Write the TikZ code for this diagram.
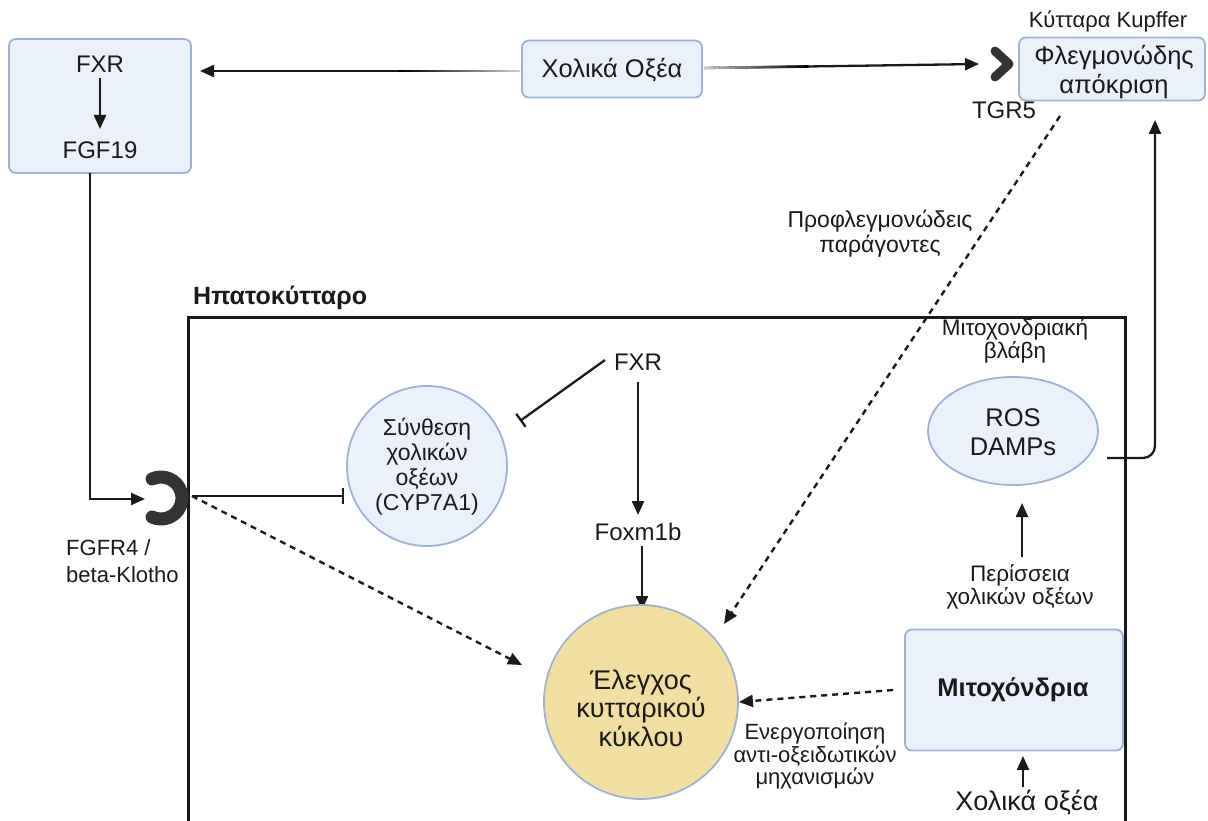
\documentclass[tikz,border=0pt]{standalone}
\usepackage{fontspec}
\setmainfont{Liberation Sans}
\usetikzlibrary{arrows.meta,calc,shapes.geometric}
\definecolor{boxfill}{HTML}{EAF1FB}
\definecolor{boxline}{HTML}{9DB3D4}
\definecolor{cycfill}{HTML}{F2DFA0}
\definecolor{recepcol}{HTML}{333333}
\definecolor{ink}{HTML}{1A1A1A}
\begin{document}
\begin{tikzpicture}[x=1pt,y=-1pt,
  bbox/.style={draw=boxline, fill=boxfill, line width=1.8, rounded corners=7, inner sep=0},
  txt/.style={inner sep=0, align=center, text=ink, font=\fontsize{24}{28}\selectfont},
  big/.style={inner sep=0, align=center, text=ink, font=\fontsize{25.5}{29}\selectfont},
  small/.style={inner sep=0, align=center, text=ink, font=\fontsize{22.5}{23.5}\selectfont},
  arr/.style={-{Triangle[length=14,width=12]}, line width=2.3, draw=ink},
  darr/.style={-{Triangle[length=14,width=12]}, line width=2.4, draw=ink, dash pattern=on 6pt off 5pt},
  inh/.style={-{Bar[width=16,line width=2.3]}, line width=2.3, draw=ink},
  recshape/.style={draw=recepcol, line width=13, line cap=round, line join=round}
]
\useasboundingbox (0,0) rectangle (1208,821);

% hepatocyte
\draw[line width=3, draw=ink] (188,840) -- (188,317) -- (1125,317) -- (1125,840);
\node[inner sep=0, anchor=west, text=ink, font=\fontsize{25}{28}\selectfont\bfseries] (hep) at (193,298) {Ηπατοκύτταρο};

% top boxes
\node[bbox, minimum width=182, minimum height=134] (fxrbox) at (100,106) {};
\node[txt] (fxr1) at (100,64) {FXR};
\node[txt] (fgf) at (100,150) {FGF19};
\draw[arr] (100,78) coordinate (fa) -- (100,129) coordinate (fb);

\node[bbox, minimum width=180, minimum height=57] (bile) at (612,69) {};
\node[big] (bilet) at (612,70) {Χολικά Οξέα};

\node[bbox, minimum width=186, minimum height=63] (kup) at (1112,69) {};
\node[big] (kupt) at (1114,72) {Φλεγμονώδης\\απόκριση};
\node[inner sep=0, text=ink, font=\fontsize{22}{26}\selectfont] (kuplab) at (1108,21) {Κύτταρα Kupffer};

% TGR5 chevron
\coordinate (tgr) at (1002,63);
\draw[draw=recepcol, line width=9, line cap=round, line join=round] (995,51) -- (1009,64) -- (995,77);
\node[txt] (tgrl) at (1004,110) {TGR5};

% top arrows
\coordinate (ltip) at (200,71);
\coordinate (lstart) at (520,71);
\coordinate (rstart) at (704,68);
\coordinate (rtip) at (979,64);
\draw[arr] (lstart) -- (ltip);
\draw[arr] (rstart) -- (rtip);
\foreach \i in {0,...,19}{
  \pgfmathsetmacro\ca{\i/20*0.38}
  \pgfmathsetmacro\cb{(\i+1)/20*0.38}
  \pgfmathsetmacro\gv{22+78*\i/19}
  \draw[line width=2.6, black!\gv] ($(lstart)!\ca!(ltip)$) -- ($(lstart)!\cb!(ltip)$);
  \draw[line width=2.6, black!\gv] ($(rstart)!\ca!(rtip)$) -- ($(rstart)!\cb!(rtip)$);
}

% FGF19 to receptor
\coordinate (rc) at (161,498);
\draw[arr] (90,173) -- (90,499) -- (145,499);
\draw[recshape] (rc) ++(115:21) arc[start angle=115, end angle=-115, radius=21];
\node[inner sep=0, anchor=west, align=left, text=ink, font=\fontsize{22}{27}\selectfont] (fgfr) at (66,561) {FGFR4 /\\beta-Klotho};

% synthesis circle
\node[circle, draw=boxline, fill=boxfill, line width=1.8, minimum size=160, inner sep=0] (syn) at (427,466) {};
\node[inner sep=0, align=center, text=ink, font=\fontsize{23}{25}\selectfont] (synt) at (427,467) {Σύνθεση\\χολικών\\οξέων\\(CYP7A1)};

\coordinate (recout) at (192,496);
\draw[inh] (recout) -- (344,496);

% FXR inner
\node[txt] (fxr2) at (638,362) {FXR};
\draw[inh] (605,360) -- (520,421);
\draw[arr] (638,382) -- (638,515);
\node[txt] (foxm) at (638,532) {Foxm1b};
\draw[arr] (642,546) -- (642,610);

% cell-cycle circle
\node[circle, draw=boxline, fill=cycfill, line width=1.8, minimum size=194, inner sep=0] (cyc) at (641,702) {};
\node[inner sep=0, align=center, text=ink, font=\fontsize{27}{28.5}\selectfont] (cyct) at (641,708) {Έλεγχος\\κυτταρικού\\κύκλου};

\draw[darr] (recout) -- (522,665);

% Kupffer dashed
\draw[darr] (1060,116) -- (724,624);
\node[inner sep=0, align=center, text=ink, font=\fontsize{23}{25}\selectfont] (prof) at (880,234) {Προφλεγμονώδεις\\παράγοντες};

% ROS
\node[ellipse, draw=boxline, fill=boxfill, line width=1.8, minimum width=170, minimum height=108, inner sep=0] (ros) at (1013,431) {};
\node[big] (rost) at (1013,432) {ROS\\DAMPs};
\node[small] (mitob) at (1015,341) {Μιτοχονδριακή\\βλάβη};
\draw[arr, rounded corners=12] (1107,458) -- (1155,458) -- (1155,120);

\draw[arr] (1022,557) -- (1022,503);
\node[small] (peris) at (1020,587) {Περίσσεια\\χολικών οξέων};

% mitochondria
\node[bbox, minimum width=218, minimum height=121] (mito) at (1014,690) {};
\node[inner sep=0, text=ink, font=\fontsize{25.5}{28}\selectfont\bfseries] (mitot) at (1013,690) {Μιτοχόνδρια};
\draw[darr] (893,690) -- (cyc.east);
\node[inner sep=0, align=center, text=ink, font=\fontsize{22}{22.5}\selectfont] (energ) at (815,756) {Ενεργοποίηση\\αντι-οξειδωτικών\\μηχανισμών};

\draw[arr] (1023,787) -- (1023,756);
\node[inner sep=0, text=ink, font=\fontsize{27}{30}\selectfont] (bile2) at (1027,803) {Χολικά οξέα};
\end{tikzpicture}
\end{document}
